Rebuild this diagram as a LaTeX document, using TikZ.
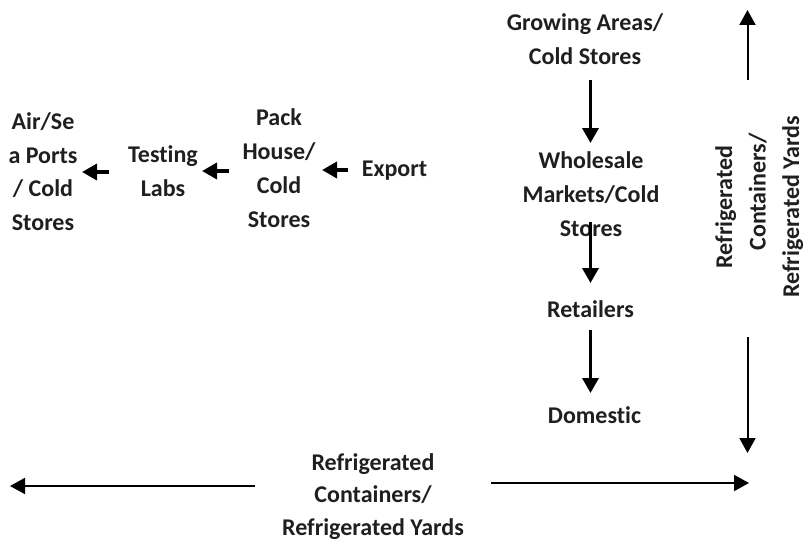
\documentclass[tikz,border=0pt]{standalone}
\usepackage{fontspec}
\setmainfont{Carlito}[Ligatures={NoCommon}]
\usepackage{tikz}
\usetikzlibrary{arrows.meta, positioning, calc}

\tikzset{
  label/.style={align=center, inner sep=0pt, anchor=base, text=black!88,
    font=\bfseries\fontsize{24}{34}\selectfont},
  fatarrow/.style={line width=3.5pt, -{Triangle[length=15pt,width=16pt]}},
  slimarrow/.style={line width=2pt, -{Triangle[length=15pt,width=16pt]}}
}

\begin{document}
\begin{tikzpicture}[x=1pt, y=-1pt]
\useasboundingbox (0,0) rectangle (804,543);

% domestic chain
\node[label] (grow)   at (585,64.3)  {Growing Areas/\\Cold Stores};
\node[label] (whole)  at (591,236.7) {Wholesale\\Markets/Cold\\Stores};
\node[label] (retail) at (590.5,317) {Retailers};
\node[label] (dom)    at (594.5,423) {Domestic};

\draw[fatarrow] ($(grow.base -| retail.base)+(0,15.7)$) -- ($(whole.base -| retail.base)+(0,-93.7)$);
\draw[fatarrow] ($(whole.base -| retail.base)+(0,-14.7)$) -- ($(retail.base)+(0,-34)$);
\draw[fatarrow] ($(retail.base)+(0,13)$) -- ($(dom.base -| retail.base)+(0,-30)$);

% export chain
\node[label] (export) at (394.5,176) {Export};
\node[label] (pack) at (279,227) {Pack\\House/\\Cold\\Stores};
\node[label] (test) at (163,196) {Testing\\Labs};
\node[label, font=\bfseries\fontsize{24}{33.5}\selectfont] (air) at (43,230) {Air/Se\\a Ports\\/ Cold\\Stores};

\draw[fatarrow] ($(export.base)+(-46.5,-6)$) -- ($(export.base -| pack.base)+(43,-6)$);
\draw[fatarrow] ($(test.base -| pack.base)+(-50,-25)$) -- ($(test.base)+(39,-25)$);
\draw[fatarrow] ($(test.base)+(-54,-24)$) -- ($(test.base -| air.base)+(39,-24)$);

% refrigerated links
\node[label, rotate=90, font=\bfseries\fontsize{24}{33.5}\selectfont] (side) at (799,207) {Refrigerated\\\hspace*{30pt}Containers/\\Refrigerated Yards};
\node[label, font=\bfseries\fontsize{24}{32.5}\selectfont] (bottom) at (373,535) {Refrigerated\\Containers/\\Refrigerated Yards};

\coordinate (upEnd) at (747.5,10);
\coordinate (dnEnd) at (747.5,453);
\coordinate (rEnd) at (749,483);
\coordinate (lEnd) at (10,486);

\draw[slimarrow, shorten <=127pt] (upEnd |- side.base) -- (upEnd);
\draw[slimarrow, shorten <=130pt] (dnEnd |- side.base) -- (dnEnd);
\draw[slimarrow, shorten <=118pt] (rEnd -| bottom.base) -- (rEnd);
\draw[slimarrow, shorten <=118pt] (lEnd -| bottom.base) -- (lEnd);
\end{tikzpicture}
\end{document}
